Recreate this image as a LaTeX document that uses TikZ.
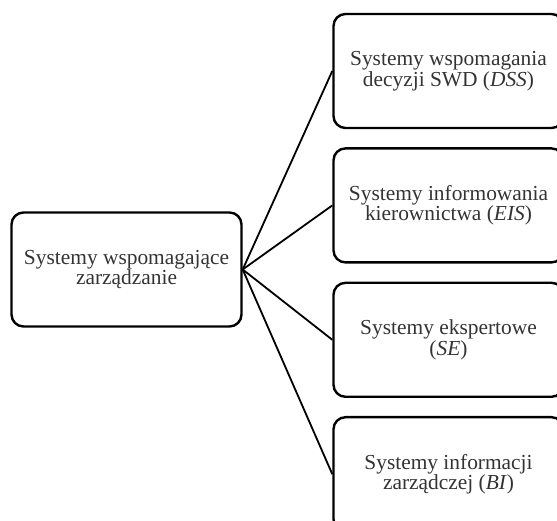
\documentclass[tikz,border=0pt]{standalone}
\usepackage{fontspec}
\setmainfont{Liberation Serif}
\usetikzlibrary{positioning}
\begin{document}
\begin{tikzpicture}[
    x=1pt, y=1pt,
    node distance=18pt,
    every node/.style={font=\fontsize{21.4}{20.5}\selectfont, align=center, text=black!80},
    box/.style={draw=black, line width=2.4pt, rounded corners=12pt,
        minimum width=230pt, minimum height=114pt, inner sep=2pt},
    link/.style={draw, line width=1.8pt}
]
\useasboundingbox (0,0) rectangle (557,521);
\clip (0,0) rectangle (557,521);
\node[box] (swz) at (126.5,251.5) {Systemy wspomagające\\zarządzanie};
\node[box] (swd) at (448.5,450) {Systemy wspomagania\\decyzji SWD (\textit{DSS})};
\node[box, below=of swd] (eis) {Systemy informowania\\kierownictwa (\textit{EIS})};
\node[box, below=of eis] (se) {Systemy ekspertowe\\(\textit{SE})};
\node[box, below=of se] (bi) {Systemy informacji\\zarządczej (\textit{BI})};
\foreach \n in {swd,eis,se,bi}
    \path[link] (swz.east) -- (\n.west);
\end{tikzpicture}
\end{document}
